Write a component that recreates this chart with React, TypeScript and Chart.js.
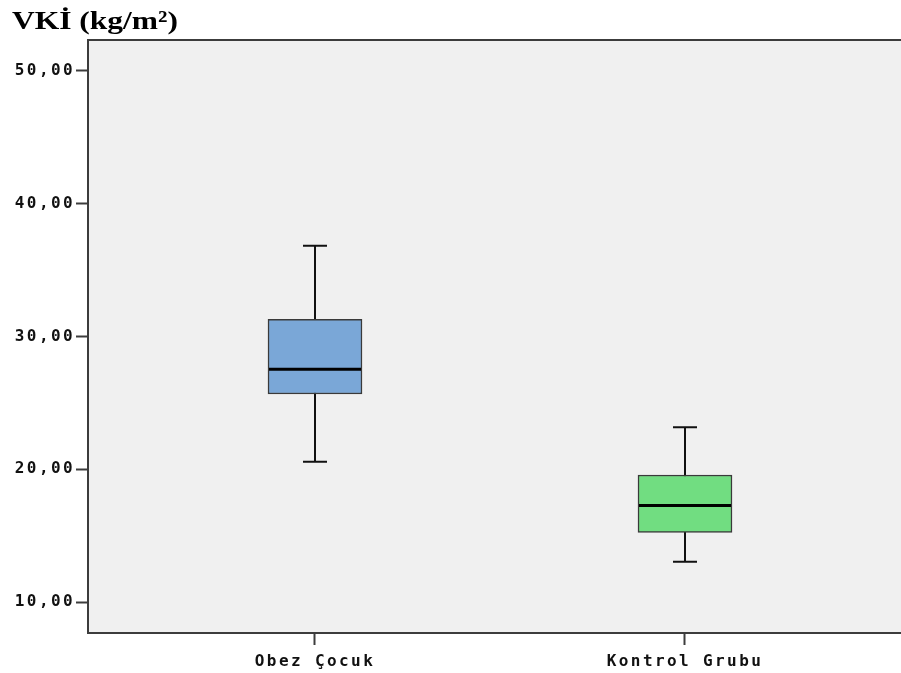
import React, { useEffect, useRef } from "react";
import { Chart, registerables } from "chart.js";

Chart.register(...registerables);

const title = "VKİ (kg/m²)";
const categories = ["Obez Çocuk", "Kontrol Grubu"];
const positions = [1, 2];
const mins = [20.57, 13.04];
const q1s = [25.67, 15.25];
const medians = [27.53, 17.26];
const q3s = [31.3, 19.57];
const maxs = [36.84, 23.16];
const yTicks = [10, 20, 30, 40, 50];
const boxColors = ["#7aa7d7", "#71dd81"];

const boxPlugin = {
  id: "boxExtras",
  beforeDraw(chart: any) {
    const { ctx, chartArea } = chart;
    ctx.save();
    ctx.fillStyle = "#f0f0f0";
    ctx.fillRect(chartArea.left, chartArea.top, chartArea.right - chartArea.left, chartArea.bottom - chartArea.top);
    ctx.strokeStyle = "#3c3c3c";
    ctx.lineWidth = 2;
    ctx.beginPath();
    ctx.moveTo(chartArea.left, chartArea.top);
    ctx.lineTo(chartArea.right, chartArea.top);
    ctx.stroke();
    ctx.restore();
    (ctx as any).letterSpacing = "2.4px";
  },
  beforeDatasetsDraw(chart: any) {
    const { ctx } = chart;
    const xs = chart.scales.x;
    const ys = chart.scales.y;
    ctx.save();
    (ctx as any).letterSpacing = "0px";
    ctx.strokeStyle = "#111";
    ctx.lineWidth = 2;
    positions.forEach((p, i) => {
      const x = Math.round(xs.getPixelForValue(p));
      const yMin = ys.getPixelForValue(mins[i]);
      const yMax = ys.getPixelForValue(maxs[i]);
      ctx.beginPath();
      ctx.moveTo(x, yMin);
      ctx.lineTo(x, yMax);
      ctx.moveTo(x - 12, yMin);
      ctx.lineTo(x + 12, yMin);
      ctx.moveTo(x - 12, yMax);
      ctx.lineTo(x + 12, yMax);
      ctx.stroke();
    });
    ctx.restore();
  },
  afterDatasetsDraw(chart: any) {
    const { ctx } = chart;
    const meta = chart.getDatasetMeta(0);
    const ys = chart.scales.y;
    ctx.save();
    ctx.strokeStyle = "#000";
    ctx.lineWidth = 3;
    meta.data.forEach((bar: any, i: number) => {
      const { x, width } = bar.getProps(["x", "width"], true);
      const y = ys.getPixelForValue(medians[i]);
      ctx.beginPath();
      ctx.moveTo(x - width / 2 + 1, y);
      ctx.lineTo(x + width / 2 - 1, y);
      ctx.stroke();
    });
    ctx.restore();
  },
  afterDraw(chart: any) {
    const { ctx } = chart;
    ctx.save();
    ctx.font = 'bold 26px "Liberation Serif"';
    ctx.fillStyle = "#000";
    ctx.textAlign = "left";
    ctx.textBaseline = "alphabetic";
    (ctx as any).letterSpacing = "0px";
    const natural = ctx.measureText(title).width;
    const sx = 166 / natural;
    ctx.translate(12, 29);
    ctx.scale(sx, 1);
    ctx.fillText(title, 0, 0);
    ctx.restore();
  },
};

export default function App() {
  const ref = useRef<HTMLCanvasElement | null>(null);

  useEffect(() => {
    document.body.style.margin = "0";
    const canvas = ref.current!;
    const tickFont = { family: "DejaVu Sans Mono", size: 16, weight: "bold" as const };
    const chart = new Chart(canvas, {
      type: "bar",
      data: {
        datasets: [
          {
            data: positions.map((p, i) => ({ x: p, y: [q1s[i], q3s[i]] })) as any,
            backgroundColor: boxColors,
            borderColor: "#3a3a3a",
            borderWidth: 1.5,
            borderSkipped: false,
            barThickness: 94,
          },
        ],
      },
      options: {
        animation: false,
        responsive: false,
        maintainAspectRatio: false,
        layout: { padding: { top: 40, left: 0, right: 0, bottom: 0 } },
        plugins: {
          legend: { display: false },
          tooltip: { enabled: false },
          title: { display: false },
        },
        scales: {
          x: {
            type: "linear",
            offset: false,
            min: 1 - 227 / 370,
            max: 2 + 216 / 370,
            afterBuildTicks: (s: any) => {
              s.ticks = positions.map((v) => ({ value: v }));
            },
            afterFit: (s: any) => {
              s.height = 40;
            },
            ticks: {
              autoSkip: false,
              maxRotation: 0,
              minRotation: 0,
              padding: 7,
              color: "#111",
              font: tickFont,
              callback: (v: any) => {
                const i = positions.indexOf(Number(v));
                return i >= 0 ? categories[i] : "";
              },
            },
            grid: {
              display: true,
              offset: false,
              drawOnChartArea: false,
              drawTicks: true,
              tickLength: 12,
              tickColor: "#3c3c3c",
              tickWidth: 2,
            },
            border: { display: true, color: "#3c3c3c", width: 2 },
          },
          y: {
            type: "linear",
            min: 50 - 562 / 13.275,
            max: 50 + 31 / 13.275,
            afterBuildTicks: (s: any) => {
              s.ticks = yTicks.map((v) => ({ value: v }));
            },
            afterFit: (s: any) => {
              s.width = 88;
            },
            ticks: {
              padding: 1,
              color: "#111",
              font: tickFont,
              callback: (v: any) => Number(v).toFixed(2).replace(".", ","),
            },
            grid: {
              display: true,
              drawOnChartArea: false,
              drawTicks: true,
              tickLength: 12,
              tickColor: "#3c3c3c",
              tickWidth: 2,
            },
            border: { display: true, color: "#3c3c3c", width: 2 },
          },
        },
      },
      plugins: [boxPlugin],
    });
    return () => chart.destroy();
  }, []);

  return (
    <div style={{ width: 901, height: 673 }}>
      <canvas ref={ref} width={901} height={673} style={{ display: "block" }} />
    </div>
  );
}
